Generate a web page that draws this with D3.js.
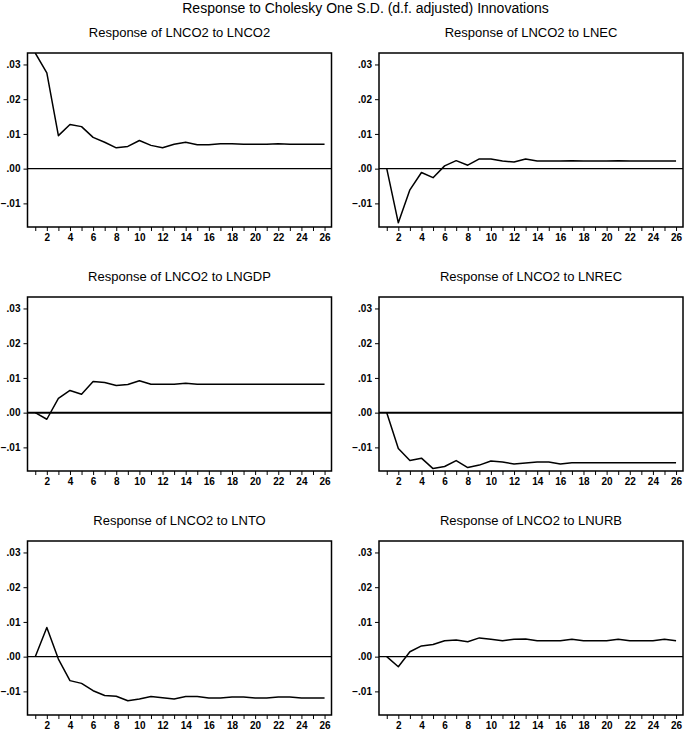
<!DOCTYPE html>
<html>
<head>
<meta charset="utf-8">
<script src="https://cdn.jsdelivr.net/npm/d3@7/dist/d3.min.js"></script>
<style>
  html, body { margin: 0; padding: 0; background: #fff; }
  svg { display: block; }
  text { font-family: Arial, "Liberation Sans", sans-serif; fill: #000; }
</style>
</head>
<body>
<svg id="chart" width="685" height="731"></svg>
<script>
// ---------------- DATA ----------------
const mainTitle = "Response to Cholesky One S.D. (d.f. adjusted) Innovations";
const panelTitles = [
  "Response of LNCO2 to LNCO2",
  "Response of LNCO2 to LNEC",
  "Response of LNCO2 to LNGDP",
  "Response of LNCO2 to LNREC",
  "Response of LNCO2 to LNTO",
  "Response of LNCO2 to LNURB"
];
const periods = [1,2,3,4,5,6,7,8,9,10,11,12,13,14,15,16,17,18,19,20,21,22,23,24,25,26];
const xTickLabels = [2,4,6,8,10,12,14,16,18,20,22,24,26];
const yTickValues = [-0.01, 0.00, 0.01, 0.02, 0.03];
const yDomain = [-0.0168, 0.0333];

const respLNCO2 = [0.0333,0.0276,0.0095,0.0127,0.0121,0.0090,0.0076,0.0060,0.0064,0.0081,0.0067,0.0060,0.0070,0.0076,0.0069,0.0069,0.0072,0.0072,0.0070,0.0070,0.0070,0.0072,0.0070,0.0070,0.0070,0.0070];
const respLNEC  = [0.0000,-0.0156,-0.0061,-0.0011,-0.0026,0.0008,0.0023,0.0010,0.0028,0.0028,0.0022,0.0019,0.0028,0.0022,0.0022,0.0022,0.0023,0.0022,0.0022,0.0022,0.0023,0.0022,0.0022,0.0022,0.0022,0.0022];
const respLNGDP = [0.0000,-0.0019,0.0041,0.0064,0.0053,0.0090,0.0087,0.0078,0.0081,0.0092,0.0082,0.0082,0.0082,0.0085,0.0082,0.0082,0.0082,0.0082,0.0082,0.0082,0.0082,0.0082,0.0082,0.0082,0.0082,0.0082];
const respLNREC = [0.0000,-0.0103,-0.0138,-0.0131,-0.0161,-0.0155,-0.0138,-0.0158,-0.0151,-0.0139,-0.0142,-0.0148,-0.0145,-0.0142,-0.0142,-0.0148,-0.0144,-0.0144,-0.0144,-0.0144,-0.0144,-0.0144,-0.0144,-0.0144,-0.0144,-0.0144];
const respLNTO  = [0.0000,0.0084,-0.0007,-0.0069,-0.0077,-0.0098,-0.0112,-0.0114,-0.0127,-0.0122,-0.0115,-0.0118,-0.0122,-0.0115,-0.0115,-0.0119,-0.0119,-0.0116,-0.0116,-0.0119,-0.0119,-0.0116,-0.0116,-0.0119,-0.0119,-0.0119];
const respLNURB = [0.0000,-0.0029,0.0014,0.0031,0.0035,0.0046,0.0048,0.0043,0.0054,0.0050,0.0046,0.0050,0.0051,0.0046,0.0046,0.0046,0.0050,0.0046,0.0046,0.0046,0.0050,0.0046,0.0046,0.0046,0.0050,0.0046];

const seriesList = [respLNCO2, respLNEC, respLNGDP, respLNREC, respLNTO, respLNURB];

// ---------------- LAYOUT ----------------
const svg = d3.select("#chart");
svg.append("rect").attr("width", 685).attr("height", 731).attr("fill", "#fff");

const colLeft = [27.5, 379];
const rowTop = [53, 297, 541];
const zeroWidth = [1.1, 2, 1.1];
const pw = 304, ph = 174;

svg.append("text")
  .attr("x", 365.5).attr("y", 12.5)
  .attr("text-anchor", "middle")
  .style("font-size", "14px")
  .text(mainTitle);

const yFmt = v => {
  const s = d3.format(".2f")(v);
  return s.replace("0.", ".");
};

seriesList.forEach((series, i) => {
  const col = i % 2, row = Math.floor(i / 2);
  const x0 = colLeft[col], y0 = rowTop[row];
  const g = svg.append("g").attr("transform", `translate(${x0},${y0})`);

  const x = d3.scaleLinear().domain([0.33, 26.6]).range([0, pw]);
  const y = d3.scaleLinear().domain(yDomain).range([ph, 0]);

  // title
  g.append("text")
    .attr("x", pw / 2).attr("y", -16)
    .attr("text-anchor", "middle")
    .style("font-size", "13px")
    .text(panelTitles[i]);

  // clip
  const cid = "clip" + i;
  g.append("clipPath").attr("id", cid)
    .append("rect").attr("width", pw).attr("height", ph);

  // zero line
  g.append("line")
    .attr("x1", 0).attr("x2", pw)
    .attr("y1", y(0)).attr("y2", y(0))
    .attr("stroke", "#000").attr("stroke-width", zeroWidth[row]);

  // response line
  const line = d3.line().x((d, k) => x(periods[k])).y(d => y(d));
  g.append("path")
    .datum(series)
    .attr("clip-path", `url(#${cid})`)
    .attr("fill", "none")
    .attr("stroke", "#000")
    .attr("stroke-width", 1.5)
    .attr("stroke-linejoin", "round")
    .attr("d", line);

  // y axis
  const ya = g.append("g")
    .call(d3.axisLeft(y).tickValues(yTickValues).tickSize(4).tickPadding(3).tickFormat(yFmt));
  ya.select(".domain").remove();
  ya.selectAll("text").style("font-size", "10px").style("font-weight", "bold")
    .style("font-family", "Arial, 'Liberation Sans', sans-serif");
  ya.selectAll("line").attr("stroke", "#000");

  // x axis
  const xa = g.append("g").attr("transform", `translate(0,${ph})`)
    .call(d3.axisBottom(x).tickValues(periods).tickSize(4).tickPadding(3)
      .tickFormat(d => xTickLabels.includes(d) ? String(d) : ""));
  xa.select(".domain").remove();
  xa.selectAll("text").style("font-size", "10px").style("font-weight", "bold")
    .style("font-family", "Arial, 'Liberation Sans', sans-serif");
  xa.selectAll("line").attr("stroke", "#000");

  // frame
  g.append("rect")
    .attr("width", pw).attr("height", ph)
    .attr("fill", "none").attr("stroke", "#000").attr("stroke-width", 1.5);
});
</script>
</body>
</html>
